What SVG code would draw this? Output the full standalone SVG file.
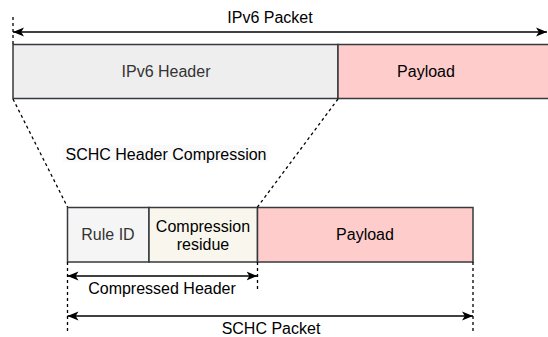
<svg xmlns="http://www.w3.org/2000/svg" width="548" height="337" viewBox="0 0 548 337">
  <style>
    .box { stroke: #36393d; stroke-width: 1.5; }
    .hdr { fill: #eeeeee; }
    .rule { fill: #f5f5f5; }
    .res { fill: #f9f7ed; }
    .pay { fill: #ffcccc; }
    .lbl { font-family: "Liberation Sans", Arial, sans-serif; font-size: 16px; text-anchor: middle; fill: #000000; }
    .grey { fill: #333333; }
    .dash { fill: none; stroke: #000000; stroke-width: 1.3; stroke-dasharray: 3 3; }
    .dim { fill: none; stroke: #000000; stroke-width: 1.3; }
  </style>
  <defs>
    <marker id="arrow" viewBox="0 0 11 11" refX="11" refY="5.5" markerWidth="11" markerHeight="11" markerUnits="userSpaceOnUse" orient="auto-start-reverse">
      <path d="M0,1 L11,5.5 L0,10 L2.8,5.5 Z" fill="#000000"/>
    </marker>
  </defs>

  <rect width="548" height="337" fill="#ffffff"/>

  <!-- original packet -->
  <g id="ipv6-header">
    <rect class="box hdr" x="13" y="44.5" width="325" height="54"/>
    <text class="lbl grey" x="166" y="77">IPv6 Header</text>
  </g>
  <g id="ipv6-payload">
    <rect class="box pay" x="338" y="44.5" width="220" height="54"/>
    <text class="lbl" x="426" y="77">Payload</text>
  </g>

  <!-- compressed packet -->
  <g id="rule-id">
    <rect class="box rule" x="67.5" y="207.5" width="81.5" height="54.5"/>
    <text class="lbl grey" x="108" y="240">Rule ID</text>
  </g>
  <g id="compression-residue">
    <rect class="box res" x="149" y="207.5" width="108.5" height="54.5"/>
    <text class="lbl" x="203" y="232">Compression</text>
    <text class="lbl" x="203" y="250">residue</text>
  </g>
  <g id="schc-payload">
    <rect class="box pay" x="257.5" y="207.5" width="215.5" height="54.5"/>
    <text class="lbl" x="365" y="240">Payload</text>
  </g>

  <!-- labels -->
  <g id="compression-label">
    <rect x="63" y="145" width="205" height="17" fill="#fafafa"/>
    <text class="lbl" x="166" y="159.5">SCHC Header Compression</text>
  </g>
  <g id="labels">
    <text class="lbl" x="270" y="23">IPv6 Packet</text>
    <text class="lbl" x="162" y="293.5">Compressed Header</text>
    <text class="lbl" x="271" y="334">SCHC Packet</text>
  </g>

  <!-- connectors and dimension lines -->
  <g id="connectors">
    <path class="dash" d="M13,17 V44"/>
    <path class="dash" d="M13,99 L67.5,207"/>
    <path class="dash" d="M338,99 L257.5,207"/>
    <path class="dash" d="M67.5,262 V331"/>
    <path class="dash" d="M257.5,262 V291"/>
    <path class="dash" d="M473,262 V331"/>
    <path class="dim" d="M13,32 H547" marker-start="url(#arrow)" marker-end="url(#arrow)"/>
    <path class="dim" d="M67.5,276 H257.5" marker-start="url(#arrow)" marker-end="url(#arrow)"/>
    <path class="dim" d="M67.5,316 H473" marker-start="url(#arrow)" marker-end="url(#arrow)"/>
  </g>
</svg>
